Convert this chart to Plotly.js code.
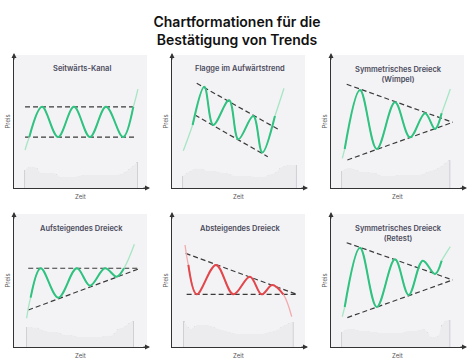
<!DOCTYPE html>
<html><head><meta charset="utf-8">
<script src="https://cdn.plot.ly/plotly-3.0.1.min.js"></script>
<style>html,body{margin:0;padding:0;background:#fff}#chart{width:474px;height:361px}</style>
</head><body><div id="chart"></div>
<script>
// ---------- text ----------
const mainTitle = 'Chartformationen für die<br>Bestätigung von Trends';
const panelTitles = ['Seitwärts-Kanal', 'Flagge im Aufwärtstrend', 'Symmetrisches Dreieck<br>(Wimpel)',
                     'Aufsteigendes Dreieck', 'Absteigendes Dreieck', 'Symmetrisches Dreieck<br>(Retest)'];
const xLabel = 'Zeit';
const yLabel = 'Preis';

// ---------- price paths (time, price) ----------
const kanalX = [8.3, 11.5, 21.1, 33.1, 45.1, 57.1, 69.2, 82.0, 89.7, 93.2];
const kanalY = [28.6, 38.3, 61, 38.3, 61, 38.3, 61, 38.3, 61, 74.4];
const flaggeX = [8.5, 15.5, 24.3, 31, 42.9, 49.9, 61.1, 67.9, 77.4, 84.2];
const flaggeY = [28, 47.4, 76.2, 47.4, 65.9, 36.6, 54.1, 26.6, 54.1, 75];
const wimpelX = [8.5, 10.3, 21.8, 34.4, 48.1, 59.4, 70.7, 78.2, 83.2, 89.7];
const wimpelY = [22.3, 29.3, 73.7, 29.3, 64.4, 38.1, 56.2, 44.4, 56.2, 74.4];
const aufX = [9.5, 12.5, 20.1, 33.3, 47.2, 57.2, 68.4, 77.2, 82.7, 90.5];
const aufY = [21.6, 37.1, 59.2, 37.1, 59.2, 46.1, 59.2, 52.9, 59.2, 77.2];
const abX = [9.8, 12.3, 18.6, 33.1, 46.1, 58.6, 67.4, 75.4, 83.7, 90];
const abY = [76.7, 61.7, 39.6, 61.7, 39.6, 52.9, 39.6, 46.6, 39.6, 22.8];
const retestX = [8.5, 10.3, 21.8, 34.4, 48.1, 58.4, 69, 78.2, 83.2, 89.7];
const retestY = [22.8, 30.1, 74.7, 30.1, 65.9, 39.1, 64.9, 54.9, 64.9, 75.4];

// ---------- trend lines (start, end) ----------
const kanalUpperX = [8.3, 91], kanalUpperY = [61, 61];
const kanalLowerX = [8.3, 91], kanalLowerY = [38.3, 38.3];
const flaggeUpperX = [18.6, 79.9], flaggeUpperY = [78.7, 44.1];
const flaggeLowerX = [17.3, 72], flaggeLowerY = [54.9, 23.5];
const wimpelUpperX = [11.8, 91.5], wimpelUpperY = [78, 49.4];
const wimpelLowerX = [12.3, 91.5], wimpelLowerY = [21.1, 49.4];
const aufUpperX = [10.7, 93.4], aufUpperY = [59.2, 59.2];
const aufLowerX = [10.7, 93.4], aufLowerY = [27.8, 58.6];
const abUpperX = [10.3, 93.8], abUpperY = [70.4, 39.6];
const abLowerX = [11, 93.8], abLowerY = [39.6, 39.6];
const retestUpperX = [11.8, 91.5], retestUpperY = [78.4, 50.4];
const retestLowerX = [12.3, 91.5], retestLowerY = [22.1, 50.4];

// ---------- volume ----------
const kanalVol = [13.5,15.8,15.8,15,11.3,11.3,11.3,11.3,10.5,8.3,8.3,8.3,8.3,8.3,9,9.8,9.8,9.8,9.8,9.8,9.8,9.8,9.8,9.8,9.8,10.5,12,14.3,16.5,19.5];
const flaggeVol = [9,11.3,12.8,14.3,14.3,14.3,12.8,12.8,12.8,12,11.3,11.3,10.5,9,9,9,9,9,8.3,8.3,8.3,8.3,9.8,10.5,12,15,16.5,17.3,17.3,17.3];
const wimpelVol = [12.8,14.3,15,14.3,13.5,12,12,12,11.3,11.3,9.8,9,9,9,9,9.8,9.8,9.8,9.8,9.8,9.8,9.8,10.5,12,12.8,13.5,15,16.5,18.8,21];
const aufVol = [15,15,14.3,14.3,12.8,12,11.3,11.3,11.3,10.5,9,9,9,8.3,7.5,7.5,7.5,7.5,7.5,7.5,7.5,8.3,8.3,8.3,10.5,13.5,14.3,15.8,18,19.5];
const abVol = [19.5,15,13.5,15.8,16.5,16.5,16.5,15.8,15,13.5,12.8,12,11.3,10.5,9.8,9.8,9.8,9.8,9.8,9.8,9.8,9.8,10.5,11.3,12,12.8,15,16.5,18,18.8];
const retestVol = [11.3,12.8,13.5,13.5,12.8,12,12,12,11.3,11.3,10.5,10.5,10.5,10.5,10.5,10.5,10.5,11.3,12,12,12,12.8,13.5,11.3,7.5,7.5,8.3,16.5,19.5,20.3];

// ---------- layout geometry / styles ----------
const W = 474, H = 361, PW = 133, PH = 133;
const colLeft = [14, 172, 331];
const rowTop = [55, 214];
const volSpan = [[8.3, 92.5], [8.3, 93.2], [8.3, 89], [9.8, 89.5], [9, 90.8], [8.3, 89]];
const UP = {bold: '#2fc281', light: '#a6e6c4'};
const DOWN = {bold: '#e2474c', light: '#f3aaac'};

const panels = [
  {px: kanalX, py: kanalY, u: [kanalUpperX, kanalUpperY], l: [kanalLowerX, kanalLowerY], vol: kanalVol, c: UP},
  {px: flaggeX, py: flaggeY, u: [flaggeUpperX, flaggeUpperY], l: [flaggeLowerX, flaggeLowerY], vol: flaggeVol, c: UP},
  {px: wimpelX, py: wimpelY, u: [wimpelUpperX, wimpelUpperY], l: [wimpelLowerX, wimpelLowerY], vol: wimpelVol, c: UP},
  {px: aufX, py: aufY, u: [aufUpperX, aufUpperY], l: [aufLowerX, aufLowerY], vol: aufVol, c: UP},
  {px: abX, py: abY, u: [abUpperX, abUpperY], l: [abLowerX, abLowerY], vol: abVol, c: DOWN},
  {px: retestX, py: retestY, u: [retestUpperX, retestUpperY], l: [retestLowerX, retestLowerY], vol: retestVol, c: UP}
];

const traces = [];
const layout = {
  width: W, height: H, margin: {l: 0, r: 0, t: 0, b: 0},
  paper_bgcolor: '#ffffff', plot_bgcolor: '#f3f3f5', showlegend: false,
  font: {family: 'Inter, "Noto Sans", sans-serif'},
  title: {text: mainTitle, x: 0.5, xanchor: 'center', y: 1 - 27 / H, yanchor: 'middle', yref: 'container',
          font: {size: 14, color: '#111111', family: 'Inter, sans-serif', weight: 600}},
  annotations: [], shapes: []
};

panels.forEach((p, i) => {
  const col = i % 3, row = Math.floor(i / 3);
  const L = colLeft[col], T = rowTop[row];
  const xd = [L / W, (L + PW) / W];
  const yd = [1 - (T + PH) / H, 1 - T / H];
  const sfx = i === 0 ? '' : String(i + 1);
  const xa = 'x' + sfx, ya = 'y' + sfx;
  const axBase = {range: [0, 100], showgrid: false, zeroline: false, showticklabels: false, ticks: '',
                  showline: true, linecolor: '#333333', linewidth: 1, fixedrange: true};
  layout['xaxis' + sfx] = Object.assign({}, axBase, {domain: xd, anchor: ya});
  layout['yaxis' + sfx] = Object.assign({}, axBase, {domain: yd, anchor: xa});

  // volume
  const n = p.vol.length, v0 = volSpan[i][0], v1 = volSpan[i][1];
  const vx = p.vol.map((_, k) => v0 + k * (v1 - v0) / (n - 1));
  traces.push({type: 'scatter', mode: 'lines', x: vx, y: p.vol, xaxis: xa, yaxis: ya, fill: 'tozeroy',
               fillcolor: '#ececef', line: {width: 0, shape: 'spline'}, hoverinfo: 'skip'});
  traces.push({type: 'bar', x: vx, y: p.vol, xaxis: xa, yaxis: ya, width: 1.4,
               marker: {color: '#cdcdd4', line: {width: 0}}, hoverinfo: 'skip'});
  // trend lines
  [p.u, p.l].forEach(t => traces.push({type: 'scatter', mode: 'lines', x: t[0], y: t[1], xaxis: xa, yaxis: ya,
    line: {color: '#3a3a3a', width: 1.2, dash: '5px,3px'}, hoverinfo: 'skip'}));
  // price
  traces.push({type: 'scatter', mode: 'lines', x: p.px, y: p.py, xaxis: xa, yaxis: ya,
               line: {color: p.c.light, width: 1.3, shape: 'spline', smoothing: 1}, hoverinfo: 'skip'});
  traces.push({type: 'scatter', mode: 'lines', x: p.px.slice(1, -1), y: p.py.slice(1, -1), xaxis: xa, yaxis: ya,
               line: {color: p.c.bold, width: 2, shape: 'spline', smoothing: 1}, hoverinfo: 'skip'});

  // panel title
  const twoLine = panelTitles[i].includes('<br>');
  layout.annotations.push({xref: 'paper', yref: 'paper', x: (L + PW / 2 + 1) / W,
    y: 1 - (T + (twoLine ? 19.5 : 14)) / H, text: panelTitles[i], showarrow: false,
    xanchor: 'center', yanchor: 'middle', font: {size: 7.5, color: '#4b4b5c', weight: 600}});
  // axis labels
  layout.annotations.push({xref: 'paper', yref: 'paper', x: (L + PW / 2) / W, y: 1 - (T + PH + 8) / H,
    text: xLabel, showarrow: false, xanchor: 'center', yanchor: 'middle', font: {size: 6, color: '#555555'}});
  layout.annotations.push({xref: 'paper', yref: 'paper', x: (L - 7) / W, y: 1 - (T + PH / 2) / H,
    text: yLabel, showarrow: false, textangle: -90, xanchor: 'center', yanchor: 'middle', font: {size: 6, color: '#555555'}});
  // arrows
  layout.annotations.push({xref: 'paper', yref: 'paper', x: L / W, y: 1 - (T - 2) / H, text: '',
    showarrow: true, ax: 0, ay: 8, arrowhead: 2, arrowsize: 1, arrowwidth: 1, arrowcolor: '#333333'});
  layout.annotations.push({xref: 'paper', yref: 'paper', x: (L + PW + 3) / W, y: 1 - (T + PH) / H, text: '',
    showarrow: true, ax: -8, ay: 0, arrowhead: 2, arrowsize: 1, arrowwidth: 1, arrowcolor: '#333333'});
});

Plotly.newPlot('chart', traces, layout, {displayModeBar: false, staticPlot: true});
</script>
</body></html>
